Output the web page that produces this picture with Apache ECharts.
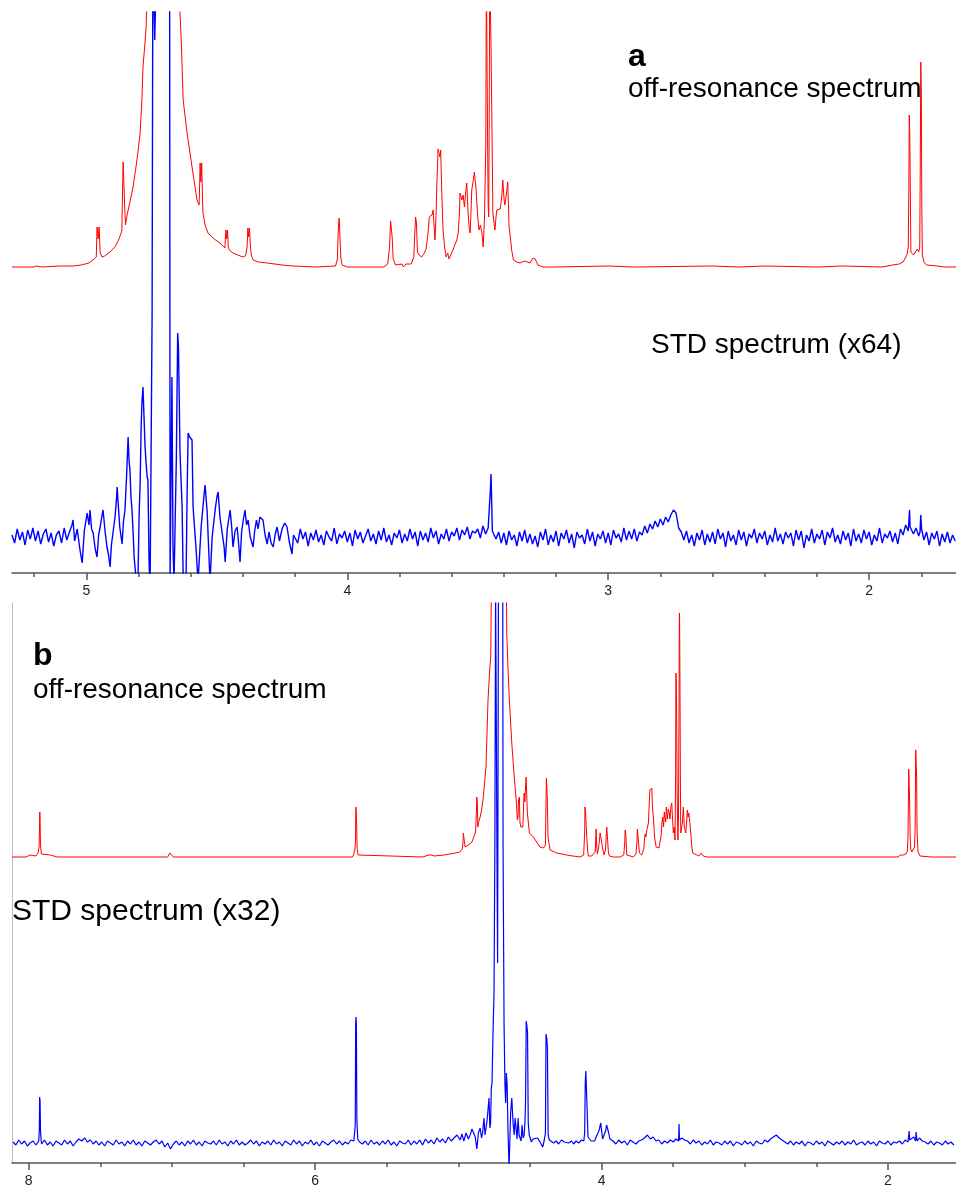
<!DOCTYPE html>
<html>
<head>
<meta charset="utf-8">
<title>STD NMR spectra</title>
<script src="https://cdn.jsdelivr.net/npm/echarts@6/dist/echarts.min.js"></script>
<style>
  html, body { margin: 0; padding: 0; background: #fff; }
  #chart { width: 956px; height: 1188px; }
</style>
</head>
<body>
<div id="chart"></div>
<script>
// ---- axis ticks (ppm) ----
var aMajorTicks = [2, 3, 4, 5];
var aMinorTicks = [1.8, 2.0, 2.2, 2.4, 2.6, 2.8, 3.0, 3.2, 3.4, 3.6, 3.8, 4.0, 4.2, 4.4, 4.6, 4.8, 5.0, 5.2];
var bMajorTicks = [2, 4, 6, 8];
var bMinorTicks = [2.0, 2.5, 3.0, 3.5, 4.0, 4.5, 5.0, 5.5, 6.0, 6.5, 7.0, 7.5, 8.0];

// ---- panel a: off-resonance spectrum [ppm, intensity] ----
var offResA = [
  [5.285,0],[5.20,0],[5.192,1],[5.189,2],[5.185,1],[5.17,0],[5.10,1],[5.05,1],[5.02,2],[4.99,4],[4.970,8],[4.962,10],
  [4.959,40],[4.955,28],[4.951,40],[4.947,14],[4.940,10],[4.930,11],[4.910,15],[4.890,20],[4.875,28],[4.864,36],
  [4.861,80],[4.859,105],[4.856,105],[4.853,60],[4.850,42],[4.844,52],[4.833,65],[4.821,80],[4.806,107],[4.794,134],
  [4.787,167],[4.783,200],[4.775,225],[4.771,240],[4.765,290],[4.706,600],[4.650,290],[4.641,254],[4.636,225],
  [4.633,200],[4.629,167],[4.614,134],[4.595,100],[4.576,67],[4.568,62],[4.566,80],[4.564,104],[4.561,85],[4.558,104],
  [4.555,70],[4.553,54],[4.545,42],[4.534,34],[4.510,28],[4.488,24],[4.469,19],[4.467,30],[4.465,37],[4.462,28],
  [4.459,37],[4.456,20],[4.452,17],[4.438,14],[4.420,12],[4.400,10],[4.390,11],[4.384,20],[4.381,39],[4.378,30],
  [4.375,39],[4.371,20],[4.368,12],[4.361,7],[4.340,5],[4.307,4],[4.250,2],[4.208,1],[4.116,0],
  [4.045,1],[4.038,8],[4.034,40],[4.031,49],[4.028,47],[4.025,10],[4.020,2],[4.00,0],[3.92,0],[3.86,0],[3.845,3],
  [3.838,20],[3.834,46],[3.831,48],[3.828,30],[3.824,8],[3.815,2],[3.79,3],[3.785,0],[3.775,3],[3.77,1],[3.755,3],
  [3.745,10],[3.741,35],[3.738,50],[3.735,44],[3.731,15],[3.725,12],[3.715,10],[3.705,14],[3.698,18],[3.695,20],
  [3.690,35],[3.686,50],[3.680,48],[3.675,52],[3.671,57],[3.667,40],[3.664,27],[3.660,50],[3.657,80],[3.652,118],
  [3.648,120],[3.645,110],[3.642,117],[3.638,77],[3.633,37],[3.627,20],[3.621,10],[3.615,14],[3.610,8],[3.606,10],
  [3.600,14],[3.595,17],[3.588,22],[3.580,27],[3.575,34],[3.570,55],[3.568,74],[3.564,70],[3.561,67],[3.556,72],
  [3.551,60],[3.546,75],[3.542,84],[3.537,54],[3.533,40],[3.529,34],[3.525,60],[3.523,77],[3.518,85],[3.513,95],
  [3.510,97],[3.507,80],[3.504,67],[3.500,50],[3.495,37],[3.490,42],[3.484,34],[3.479,20],[3.474,50],[3.469,124],
  [3.467,300],[3.465,300],[3.462,120],[3.460,60],[3.458,50],[3.456,150],[3.454,300],[3.452,300],[3.449,220],
  [3.446,220],[3.443,80],[3.442,54],[3.438,45],[3.434,37],[3.430,50],[3.427,57],[3.420,55],[3.414,58],[3.408,70],
  [3.404,87],[3.401,75],[3.399,67],[3.396,62],[3.393,60],[3.389,75],[3.385,85],[3.382,60],[3.380,40],[3.375,30],
  [3.370,17],[3.363,7],[3.350,5],[3.338,4],[3.320,6],[3.30,4],[3.288,9],[3.280,8],[3.269,2],[3.250,0],[3.211,0],
  [3.0,1],[2.90,0],[2.60,1],[2.50,0],[2.40,1],[2.20,0],[2.10,1],[1.95,0],[1.91,2],[1.885,3],[1.870,5],[1.855,12],
  [1.850,20],[1.848,70],[1.846,152],[1.844,130],[1.842,75],[1.840,15],[1.830,12],[1.815,18],[1.810,15],[1.806,20],
  [1.804,100],[1.802,205],[1.800,175],[1.798,60],[1.796,12],[1.790,5],[1.780,2],[1.74,1],[1.71,0],[1.667,0]
];

// ---- panel a: STD spectrum (x64) ----
// water / dispersion region read point by point
var stdA_water = [
  [5.285,2],[5.275,-6],[5.265,8],[5.255,-3],[5.245,5],[5.235,-8],[5.225,7],[5.215,-2],[5.205,9],[5.195,-4],
  [5.185,6],[5.175,-7],[5.165,3],[5.155,8],[5.145,-5],[5.135,4],[5.125,-9],[5.115,2],[5.105,6],[5.095,-6],
  [5.085,9],[5.075,-3],[5.065,5],[5.055,12],[5.051,17],[5.045,-4],[5.035,8],[5.025,-12],[5.016,-26],[5.008,6],
  [4.997,24],[4.990,12],[4.986,27],[4.980,8],[4.974,4],[4.966,-12],[4.959,-20],[4.953,2],[4.947,10],[4.941,20],
  [4.936,27],[4.928,5],[4.921,-10],[4.915,-18],[4.909,-30],[4.904,-8],[4.898,4],[4.890,20],[4.884,40],[4.882,50],
  [4.879,37],[4.872,10],[4.863,-7],[4.858,15],[4.852,27],[4.846,60],[4.840,100],[4.836,75],[4.833,67],[4.829,40],
  [4.825,27],[4.820,0],[4.817,-20],[4.810,-40],[4.806,-45],[4.802,-40],[4.798,20],[4.794,53],[4.790,110],
  [4.787,134],[4.783,150],[4.779,120],[4.775,90],[4.770,70],[4.767,60],[4.764,57],[4.760,-20],[4.756,-60],
  [4.750,-60],[4.748,224],[4.745,600],[4.741,600],[4.738,497],[4.733,497],[4.729,600],[4.700,600],[4.681,600],
  [4.679,-40],[4.675,-40],[4.672,160],[4.668,-10],[4.664,-45],[4.660,-45],[4.655,80],[4.650,204],[4.647,190],
  [4.641,84],[4.636,50],[4.633,30],[4.629,-40],[4.618,-45],[4.614,40],[4.610,104],[4.604,100],[4.595,97],
  [4.591,30],[4.580,-10],[4.572,-45],[4.560,10],[4.548,45],[4.545,52],[4.540,35],[4.537,25],[4.530,-20],
  [4.526,-45],[4.518,0],[4.505,30],[4.499,41],[4.495,45],[4.488,20],[4.480,5],[4.472,-10],[4.468,-25],[4.460,8],
  [4.449,27],[4.443,10],[4.438,-10],[4.430,6],[4.422,10],[4.416,-8],[4.411,-25],[4.405,5],[4.398,18],[4.392,27],
  [4.386,12],[4.380,17],[4.372,0],[4.361,-10],[4.355,6],[4.348,17],[4.342,8],[4.335,20],[4.323,17],[4.315,2],
  [4.307,-7],[4.300,5],[4.292,-6],[4.284,-10],[4.276,3],[4.269,10],[4.260,-4],[4.250,8],[4.240,14],[4.231,10],
  [4.222,-5],[4.212,-17],[4.206,2]
];
// baseline from 4.20 ppm down in steps of 0.01 ppm
var stdA_noiseStart = 4.20, stdA_noiseStep = 0.01;
var stdA_noise = [
  3,-6,8,-2,5,-9,4,-3,7,-5, 2,-8,6,0,-4,9,-7,3,-1,6, -5,4,-9,7,-2,5,-6,1,8,-4, 3,-7,6,-3,9,-5,2,-8,4,-1,
  7,-6,3,-4,8,-2,5,-9,6,-3, 4,-5,9,-1,6,-7,3,-2,8,-4, 5,1,9,-3,7,2,10,-2,6,4, 8,-1,11,3,9,14,6,-2,5,-6,
  4,-8,6,-3,2,-9,5,-4,7,-6, 3,-7,1,-10,5,-3,8,-8,2,-5, 6,-9,4,-2,7,-6,3,-11,5,-1, 2,-7,8,-4,5,-9,3,-2,6,-6,
  4,-8,7,-1,3,-5,9,-3,6,-2, 8,-4,5,2,11,4,13,8,16,10, 18,12,20,15,22,27,24,9,5,-3, 6,-6,2,-9,4,-3,7,-8,3,-5,
  5,-7,8,-2,4,-10,6,-4,2,-8, 7,-3,5,-9,3,-1,8,-6,4,-2, 6,-8,2,-5,9,-4,3,-7,5,-1, 4,-9,7,-3,6,-11,2,-4,8,-6,
  3,-2,7,-8,5,-1,9,-5,2,-7, 6,-3,4,-9,8,-4,3,-6,7,-2, 5,-8,2,-4,9,-6,3,-1,6,-5, 4,-7,8,2,12,6,10,3,9,1,
  7,-3,5,-8,4,-2,6,-9,3,-5, 5,-6,2,-4
];
var stdA_pk345 = [[3.453,8],[3.451,50],[3.449,63],[3.447,40],[3.444,6]];
var stdA_pk184 = [[1.848,4],[1.845,27],[1.843,10]];
var stdA_pk180 = [[1.805,5],[1.802,22],[1.799,8]];

// ---- panel b: off-resonance spectrum ----
var offResB = [
  [8.117,0],[8.02,0],[7.99,2],[7.985,0],[7.95,1],[7.935,4],[7.928,10],[7.925,30],[7.923,45],[7.921,38],[7.918,12],
  [7.912,3],[7.90,1],[7.85,2],[7.846,3],[7.840,1],[7.80,0],[7.03,0],[7.015,4],[7.011,6],[7.006,3],[6.99,0],
  [5.74,0],[5.73,3],[5.722,8],[5.718,18],[5.716,50],[5.713,45],[5.710,30],[5.707,8],[5.70,2],[5.69,0],
  [5.25,0],[5.205,2],[5.19,2],[5.17,1],[5.10,2],[5.06,3],[5.02,4],[4.99,5],[4.972,8],[4.968,14],[4.965,24],
  [4.962,20],[4.958,22],[4.953,10],[4.930,12],[4.905,15],[4.897,17],[4.880,25],[4.874,45],[4.871,60],[4.868,55],
  [4.864,30],[4.858,35],[4.848,40],[4.838,47],[4.828,57],[4.807,90],[4.793,157],[4.780,190],[4.774,200],
  [4.767,300],[4.710,600],[4.667,300],[4.662,224],[4.654,190],[4.644,157],[4.627,114],[4.615,90],[4.604,70],
  [4.595,55],[4.588,37],[4.583,40],[4.580,58],[4.576,55],[4.574,60],[4.570,35],[4.564,30],[4.556,28],[4.550,30],
  [4.545,50],[4.541,64],[4.536,55],[4.531,70],[4.527,80],[4.522,60],[4.518,44],[4.504,24],[4.490,22],[4.476,20],
  [4.466,22],[4.464,22],[4.458,16],[4.453,14],[4.430,10],[4.406,9],[4.392,12],[4.389,45],[4.387,64],[4.385,79],
  [4.382,70],[4.379,57],[4.374,20],[4.360,7],[4.313,4],[4.243,2],[4.200,1],[4.150,0],
  [4.125,2],[4.118,25],[4.116,50],[4.112,45],[4.107,44],[4.103,20],[4.096,4],[4.092,1],[4.068,1],[4.045,5],
  [4.040,20],[4.038,28],[4.034,10],[4.029,3],[4.020,10],[4.010,24],[4.004,22],[3.999,25],[3.992,8],[3.982,2],
  [3.972,8],[3.966,25],[3.964,30],[3.960,22],[3.952,4],[3.945,1],[3.918,0],[3.871,0],[3.845,2],[3.838,15],
  [3.835,27],[3.830,20],[3.824,2],[3.800,1],[3.778,0],[3.760,3],[3.753,15],[3.750,28],[3.745,20],[3.736,4],
  [3.720,2],[3.705,8],[3.699,20],[3.696,23],[3.690,20],[3.684,27],[3.680,25],[3.673,34],[3.668,50],[3.663,67],
  [3.656,65],[3.649,69],[3.645,50],[3.638,40],[3.630,20],[3.619,10],[3.600,9],[3.591,9],[3.585,20],[3.578,35],
  [3.573,40],[3.567,30],[3.562,45],[3.557,44],[3.552,35],[3.548,50],[3.545,50],[3.540,38],[3.534,48],[3.527,44],
  [3.522,38],[3.516,50],[3.510,54],[3.505,40],[3.499,24],[3.492,30],[3.487,17],[3.483,80],[3.481,184],[3.479,180],
  [3.476,150],[3.472,60],[3.467,17],[3.463,40],[3.459,150],[3.457,244],[3.455,240],[3.452,157],[3.449,60],
  [3.447,24],[3.440,30],[3.435,35],[3.429,50],[3.422,30],[3.412,24],[3.406,35],[3.401,47],[3.396,40],[3.391,44],
  [3.384,35],[3.377,24],[3.370,10],[3.363,4],[3.335,2],[3.320,1],[3.305,4],[3.298,4],[3.290,1],[3.265,0],
  [2.97,0],[2.963,1],[2.955,0],[2.77,0],[2.767,2],[2.76,0],[2.11,0],[2.104,1],[2.09,0],[1.93,0],[1.915,2],[1.89,2],
  [1.875,3],[1.865,6],[1.860,20],[1.857,60],[1.855,88],[1.852,86],[1.849,57],[1.845,20],[1.841,8],[1.834,5],
  [1.823,7],[1.815,10],[1.810,30],[1.808,80],[1.806,107],[1.803,107],[1.800,80],[1.797,25],[1.790,5],[1.776,1],
  [1.70,0],[1.525,0]
];

// ---- panel b: STD spectrum (x32) ----
var stdB_noise1Start = 8.11, stdB_noise1Step = 0.02;
var stdB_noise1 = [
  1,-2,3,-1,2,-3,0,2,-2,1, -1,3,-2,1,-3,2,0,-2,3,-1, 2,-3,1,4,2,5,1,3,-1,2, -2,1,-3,2,0,-2,3,-1,1,-3,
  2,-1,3,-2,1,-3,2,0,-2,1, 3,-1,2,-4,0,-6,-1,2,-2,1, -3,2,-1,3,-2,1,-3,2,0,-1, 2,-2,3,-1,1,-3,2,-1,3,-2,
  1,-2,0,3,-1,2,-3,1,-1,2, -2,3,-1,1,-3,2,0,-2,3,-1, 2,-3,1,-1,3,-2,1,-3,2,0, -2,1,3,-1,2,-2,1,-1,3,2,
  4,1,-1,2,-2,3,-1,1,-2,2, -1,3,-2,1,-3,2,0,-1,3,-2, 2,-1,3,-2,4,0,3,-1,5,1, 4,0,6,2,5,8
];
var stdB_water = [
  [4.988,3],[4.975,9],[4.962,2],[4.946,10],[4.930,4],[4.918,8],[4.905,14],[4.895,12],[4.882,6],[4.871,-6],
  [4.860,10],[4.848,15],[4.838,5],[4.830,11],[4.821,25],[4.814,8],[4.807,10],[4.800,22],[4.795,30],[4.786,45],
  [4.780,15],[4.775,20],[4.770,55],[4.765,60],[4.758,110],[4.751,150],[4.745,300],[4.740,560],[4.732,560],
  [4.729,250],[4.726,180],[4.720,560],[4.690,560],[4.688,300],[4.681,120],[4.675,60],[4.670,40],[4.665,70],
  [4.660,60],[4.653,10],[4.646,-25],[4.642,-25],[4.635,30],[4.627,45],[4.618,20],[4.610,8],[4.604,25],[4.597,15],
  [4.590,4],[4.583,25],[4.576,8],[4.569,10],[4.562,2],[4.555,18],[4.548,5],[4.541,8],[4.535,20],[4.531,40],
  [4.526,122],[4.522,118],[4.517,110],[4.512,20],[4.505,8],[4.499,6],[4.490,1],[4.478,4],[4.465,2],[4.446,5],
  [4.430,1],[4.411,-4],[4.400,3],[4.392,10],[4.388,109],[4.383,105],[4.378,95],[4.373,8],[4.365,3],[4.353,4],
  [4.335,0],[4.318,2],[4.300,-1],[4.280,3],[4.260,1],[4.248,3],[4.230,0],[4.210,2],[4.195,-1],[4.178,2],[4.160,0],
  [4.140,3],[4.124,2],[4.118,10],[4.114,60],[4.110,72],[4.106,70],[4.100,30],[4.095,6],[4.087,4],[4.073,2],
  [4.060,4],[4.048,2],[4.038,6],[4.025,10],[4.015,14],[4.006,20],[4.000,18],[3.993,4],[3.986,5],[3.980,6],
  [3.972,12],[3.965,18],[3.957,20],[3.950,10],[3.942,4],[3.932,2]
];
var stdB_noise2Start = 3.92, stdB_noise2Step = 0.02;
var stdB_noise2 = [
  2,-1,3,0,2,-2,3,1,-1,2, 3,5,8,4,6,2,3,-1,2,0, 3,1,4,2,5,3,2,-1,3,0, 2,-2,1,-1,3,-2,1,0,-2,2,
  -1,2,-3,1,0,-2,2,-1,1,-3, 2,0,-1,3,1,4,6,8,5,3, 1,-1,2,-2,1,-1,2,-3,1,0, -2,2,-1,1,-3,2,0,-2,1,-1,
  2,-2,1,-1,3,-2,0,1,-2,2, -1,1,-3,2,0,-1,2,-2,1,0, 2,-1,3,1,4,6,3,5,2,1, -1,2,-2,1,0,-2,2,-1,1,-2
];
var stdB_pk792 = [[7.930,2],[7.926,14],[7.924,46],[7.921,42],[7.918,12],[7.913,2]];
var stdB_pk571 = [[5.726,3],[5.720,18],[5.717,120],[5.715,126],[5.712,118],[5.709,25],[5.703,4]];
var stdB_pk346 = [[3.462,2],[3.459,19],[3.456,3]];
var stdB_pk185 = [[1.855,1],[1.852,12],[1.849,3]];
var stdB_pk180 = [[1.807,2],[1.804,11],[1.800,6],[1.796,2]];

// merge a sampled baseline with read peak points (baseline samples inside a peak are dropped)
function buildTrace(segments, groups) {
    var spans = groups.map(function (g) {
        var xs = g.map(function (p) { return p[0]; });
        return [Math.min.apply(null, xs), Math.max.apply(null, xs)];
    });
    var pts = [];
    segments.forEach(function (s) {
        s.values.forEach(function (v, i) {
            var ppm = +(s.start - i * s.step).toFixed(4);
            var inside = spans.some(function (sp) { return ppm >= sp[0] - 1e-9 && ppm <= sp[1] + 1e-9; });
            if (!inside) pts.push([ppm, v]);
        });
    });
    groups.forEach(function (g) { g.forEach(function (p) { pts.push(p); }); });
    pts.sort(function (a, b) { return b[0] - a[0]; });
    return pts;
}

var stdA = buildTrace(
    [{ start: stdA_noiseStart, step: stdA_noiseStep, values: stdA_noise }],
    [stdA_water, stdA_pk345, stdA_pk184, stdA_pk180]
);
var stdB = buildTrace(
    [{ start: stdB_noise1Start, step: stdB_noise1Step, values: stdB_noise1 },
     { start: stdB_noise2Start, step: stdB_noise2Step, values: stdB_noise2 }],
    [stdB_water, stdB_pk792, stdB_pk571, stdB_pk346, stdB_pk185, stdB_pk180]
);

var chart = echarts.init(document.getElementById('chart'), null, { renderer: 'canvas' });

var axisColor = '#555';
var font = '"Liberation Sans", Arial, Helvetica, sans-serif';

function hiddenX(grid, min, max) {
    return { type: 'value', gridIndex: grid, min: min, max: max, inverse: true, show: false, splitLine: { show: false } };
}
function mainX(grid, min, max, majors) {
    return {
        type: 'value', gridIndex: grid, min: min, max: max, inverse: true, position: 'bottom',
        axisLine: { show: true, onZero: false, lineStyle: { color: axisColor, width: 1.5 } },
        axisTick: { show: true, customValues: majors, length: 7, lineStyle: { color: axisColor, width: 1.5 } },
        axisLabel: { show: true, customValues: majors, margin: 11, color: '#222', fontSize: 14, fontFamily: font },
        splitLine: { show: false }
    };
}
function minorX(grid, min, max, minors) {
    return {
        type: 'value', gridIndex: grid, min: min, max: max, inverse: true, position: 'bottom',
        axisLine: { show: false, onZero: false },
        axisTick: { show: true, customValues: minors, length: 4, lineStyle: { color: axisColor, width: 1.5 } },
        axisLabel: { show: false },
        splitLine: { show: false }
    };
}
function hiddenY(grid, min, max) {
    return { type: 'value', gridIndex: grid, min: min, max: max, show: false, splitLine: { show: false } };
}
function spectrum(xi, yi, data, color, width) {
    return {
        type: 'line', xAxisIndex: xi, yAxisIndex: yi, data: data, showSymbol: false,
        lineStyle: { color: color, width: width }, silent: true, animation: false
    };
}

var option = {
    backgroundColor: '#fff',
    animation: false,
    grid: [
        { left: 12, right: 0, top: 12, height: 260 },   // a: off-resonance
        { left: 12, right: 0, top: 12, height: 561 },   // a: STD
        { left: 12, right: 0, top: 603, height: 259 },  // b: off-resonance
        { left: 12, right: 0, top: 603, height: 560 }   // b: STD
    ],
    xAxis: [
        hiddenX(0, 1.667, 5.285),
        mainX(1, 1.667, 5.285, aMajorTicks),
        minorX(1, 1.667, 5.285, aMinorTicks),
        hiddenX(2, 1.525, 8.117),
        mainX(3, 1.525, 8.117, bMajorTicks),
        minorX(3, 1.525, 8.117, bMinorTicks)
    ],
    yAxis: [
        hiddenY(0, -5, 255),
        hiddenY(1, -36, 525),
        hiddenY(2, -5, 254),
        {
            type: 'value', gridIndex: 3, min: -20, max: 540,
            axisLine: { show: true, onZero: false, lineStyle: { color: '#bbb', width: 1 } },
            axisTick: { show: false }, axisLabel: { show: false }, splitLine: { show: false }
        }
    ],
    series: [
        spectrum(0, 0, offResA, '#ff0000', 1),
        spectrum(1, 1, stdA, '#0000ff', 1.4),
        spectrum(3, 2, offResB, '#ff0000', 1),
        spectrum(4, 3, stdB, '#0000ff', 1.2)
    ],
    graphic: [
        { type: 'text', x: 628, y: 57, style: { text: 'a', font: 'bold 32px ' + font, fill: '#000', textAlign: 'left', textVerticalAlign: 'middle' } },
        { type: 'text', x: 628, y: 89, style: { text: 'off-resonance spectrum', font: '28px ' + font, fill: '#000', textAlign: 'left', textVerticalAlign: 'middle' } },
        { type: 'text', x: 651, y: 345, style: { text: 'STD spectrum (x64)', font: '28px ' + font, fill: '#000', textAlign: 'left', textVerticalAlign: 'middle' } },
        { type: 'text', x: 33, y: 656, style: { text: 'b', font: 'bold 32px ' + font, fill: '#000', textAlign: 'left', textVerticalAlign: 'middle' } },
        { type: 'text', x: 33, y: 690, style: { text: 'off-resonance spectrum', font: '28px ' + font, fill: '#000', textAlign: 'left', textVerticalAlign: 'middle' } },
        { type: 'text', x: 12, y: 912, style: { text: 'STD spectrum (x32)', font: '30px ' + font, fill: '#000', textAlign: 'left', textVerticalAlign: 'middle' } }
    ]
};

chart.setOption(option);
</script>
</body>
</html>
